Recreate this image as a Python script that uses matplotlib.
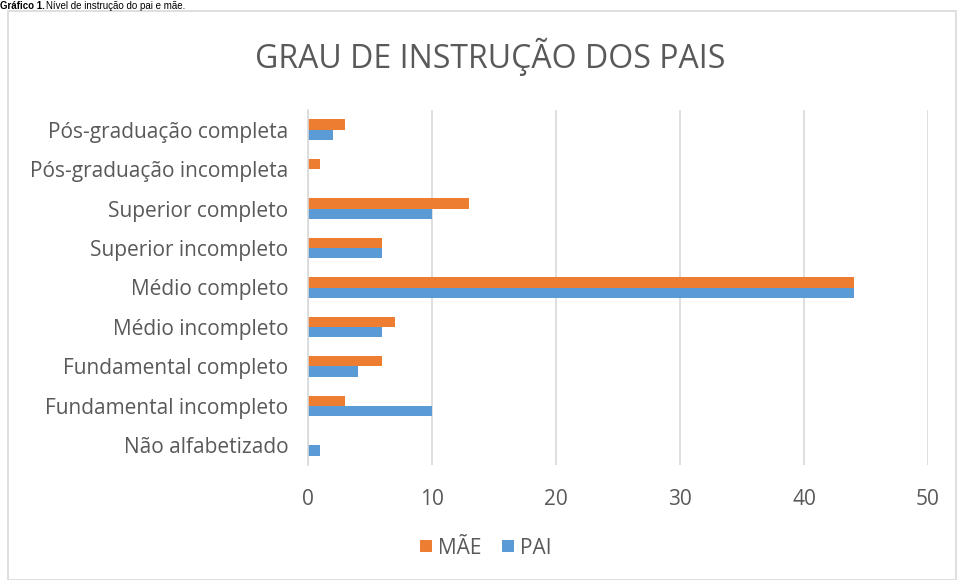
import matplotlib.pyplot as plt
import numpy as np
from matplotlib.patches import Rectangle

categorias = ["Não alfabetizado", "Fundamental incompleto", "Fundamental completo",
              "Médio incompleto", "Médio completo", "Superior incompleto",
              "Superior completo", "Pós-graduação incompleta", "Pós-graduação completa"]
mae = [0, 3, 6, 7, 44, 6, 13, 1, 3]
pai = [1, 10, 4, 6, 44, 6, 10, 0, 2]
xticks = [0, 10, 20, 30, 40, 50]

plt.rcParams['font.family'] = ['Open Sans', 'DejaVu Sans']
cinza = "#595959"

fig = plt.figure(figsize=(9.58, 5.80), dpi=100)
ax = fig.add_axes([308/958, 1-465/580, 620/958, 355/580])

y = np.arange(len(categorias))
h = 0.26
ax.barh(y + h/2, mae, height=h, color="#ED7D31", label="MÃE")
ax.barh(y - h/2, pai, height=h, color="#5B9BD5", label="PAI")

ax.set_xlim(0, 50)
ax.set_ylim(-0.5, len(categorias) - 0.5)
ax.set_xticks(xticks)
ax.set_yticks(y)
ax.set_yticklabels(categorias)
ax.tick_params(length=0, labelsize=15, colors=cinza)
ax.tick_params(axis='x', pad=17)
ax.tick_params(axis='y', pad=14)
ax.grid(axis='x', color="#d9d9d9", linewidth=1.2)
ax.set_axisbelow(True)
for s in ["top", "right", "bottom"]:
    ax.spines[s].set_visible(False)
ax.spines["left"].set_color("#d9d9d9")
ax.spines["left"].set_linewidth(1.2)

fig.text(490/958, 1-57/580, "GRAU DE INSTRUÇÃO DOS PAIS", ha="center", va="center",
         fontsize=23, color=cinza)

# borda da área do gráfico
fig.patches.append(Rectangle((8/958, 0), 948/958, 1-11/580, transform=fig.transFigure,
                             fill=False, edgecolor="#d9d9d9", linewidth=1.2))

# legenda do gráfico
fig.text(0.0, 1-1/580, "Gráfico 1.", ha="left", va="top", fontsize=7,
         fontweight="bold", color="black", family=["Liberation Sans", "DejaVu Sans"])
fig.text(46/958, 1-1/580, "Nível de instrução do pai e mãe.", ha="left", va="top",
         fontsize=7, color="black", family=["Liberation Sans", "DejaVu Sans"])

handles, labels = ax.get_legend_handles_labels()
fig.legend(handles, labels, loc="center", bbox_to_anchor=(486/958, 1-548/580), ncol=2,
           frameon=False, fontsize=15, labelcolor=cinza, handlelength=0.55,
           handleheight=0.55, handletextpad=0.3, columnspacing=1.0)

fig.savefig("out.png", dpi=100)
